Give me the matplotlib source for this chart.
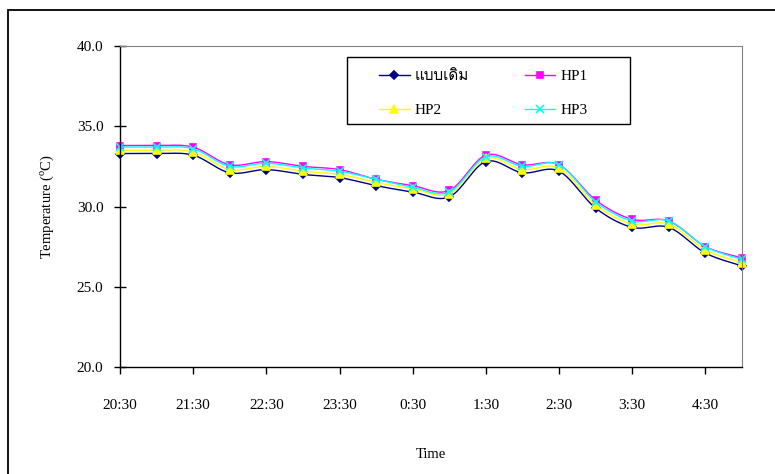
import numpy as np
import matplotlib
matplotlib.use('Agg')
import matplotlib.pyplot as plt
from matplotlib import font_manager
from matplotlib.ft2font import FT2Font
from matplotlib.patches import Rectangle

# data (every 30 min, 20:30 -> 5:00)
tick_labels = ['20:30', '21:30', '22:30', '23:30', '0:30', '1:30', '2:30', '3:30', '4:30']
base = [33.3, 33.3, 33.2, 32.1, 32.3, 32.0, 31.8, 31.3, 30.9, 30.6, 32.8, 32.1, 32.2, 29.9, 28.7, 28.7, 27.1, 26.3]
hp1 = [33.8, 33.8, 33.7, 32.6, 32.8, 32.5, 32.3, 31.7, 31.3, 31.0, 33.2, 32.6, 32.6, 30.4, 29.2, 29.1, 27.5, 26.8]
hp2 = [33.5, 33.5, 33.4, 32.3, 32.5, 32.2, 32.0, 31.5, 31.1, 30.8, 33.0, 32.3, 32.4, 30.1, 28.9, 28.9, 27.3, 26.5]
hp3 = [33.7, 33.7, 33.6, 32.5, 32.7, 32.4, 32.2, 31.7, 31.2, 30.9, 33.1, 32.5, 32.6, 30.3, 29.1, 29.1, 27.5, 26.7]
series_names = ['แบบเดิม', 'HP1', 'HP2', 'HP3']


# find a font that has Thai glyphs
def thai_font():
    for f in font_manager.fontManager.ttflist:
        try:
            if ord('แ') in FT2Font(f.fname).get_charmap():
                return f.name
        except Exception:
            pass
    return None


fams = ['Liberation Serif']
tf = thai_font()
if tf:
    fams.append(tf)
fams.append('DejaVu Sans')
plt.rcParams['font.family'] = fams
plt.rcParams['mathtext.fontset'] = 'custom'
plt.rcParams['mathtext.rm'] = 'Liberation Serif'


def smooth(y, n=20):
    # excel-like smoothed line (bezier, tension 1/6)
    y = np.asarray(y, float)
    x = np.arange(len(y), dtype=float)
    P = np.column_stack([x, y])
    out = []
    for i in range(len(P) - 1):
        p0 = P[max(i - 1, 0)]
        p1 = P[i]
        p2 = P[i + 1]
        p3 = P[min(i + 2, len(P) - 1)]
        c1 = p1 + (p2 - p0) / 6
        c2 = p2 - (p3 - p1) / 6
        t = np.linspace(0, 1, n)[:, None]
        seg = (1 - t) ** 3 * p1 + 3 * (1 - t) ** 2 * t * c1 + 3 * (1 - t) * t ** 2 * c2 + t ** 3 * p2
        out.append(seg if i == 0 else seg[1:])
    s = np.vstack(out)
    return s[:, 0], s[:, 1]


fig = plt.figure(figsize=(7.75, 4.74), dpi=100)
ax = fig.add_axes([120 / 775, 1 - 367 / 474, 622 / 775, 321 / 474])

styles = [('#000080', 'D', 4.5), ('#FF00FF', 's', 4.5), ('#FFFF00', '^', 5.5), ('#00FFFF', 'x', 5.5)]
handles = []
x = np.arange(len(base))
for vals, name, (c, m, ms) in zip([base, hp1, hp2, hp3], series_names, styles):
    sx, sy = smooth(vals)
    ax.plot(sx, sy, color=c, lw=1.0, clip_on=False)
    ax.plot(x, vals, ls='none', marker=m, color=c, ms=ms, mew=1.2, clip_on=False)
    h, = ax.plot([], [], color=c, lw=1.0, marker=m, ms=ms, mew=1.2, label=name)
    handles.append(h)

ax.set_xlim(0, len(base) - 1)
ax.set_ylim(20, 40)
ax.set_xticks(np.arange(0, len(base) - 1, 2))
ax.set_xticklabels(tick_labels)
ax.set_yticks(np.arange(20, 41, 5))
ax.set_yticklabels(['%.1f' % v for v in np.arange(20, 41, 5)])
ax.tick_params(axis='x', direction='out', length=5, width=1, pad=18, labelsize=11)
ax.tick_params(axis='y', direction='inout', length=8, width=1, pad=8, labelsize=11)

for s in ['top', 'right']:
    ax.spines[s].set_color('#808080')
for s in ['left', 'bottom']:
    ax.spines[s].set_color('black')
    ax.spines[s].set_linewidth(1.0)

ax.set_xlabel('Time', fontsize=10.5, labelpad=26)
ax.set_ylabel('Temperature ($^{\\mathrm{o}}$C)', fontsize=10.5, labelpad=15)

# legend: frame drawn separately so the inner padding can differ
order = [0, 2, 1, 3]
leg = ax.legend([handles[i] for i in order], [series_names[i] for i in order], ncol=2,
                loc='upper left', bbox_to_anchor=((379 - 10.7) / 775, 1 - 59 / 474),
                bbox_transform=fig.transFigure, frameon=False,
                fontsize=11, handlelength=2.0, handletextpad=0.3,
                columnspacing=3.7, borderpad=0.7, labelspacing=1.3, borderaxespad=0)
fig.add_artist(Rectangle((347 / 775, 1 - 124 / 474), 283 / 775, 67 / 474, transform=fig.transFigure,
                         fill=False, edgecolor='black', lw=1.0))

# outer chart border
fig.add_artist(Rectangle((8 / 775, -0.1), 1.2, 1 - 10 / 474 + 0.1, transform=fig.transFigure,
                         fill=False, edgecolor='black', lw=1.3))

fig.savefig('out.png', dpi=100)
